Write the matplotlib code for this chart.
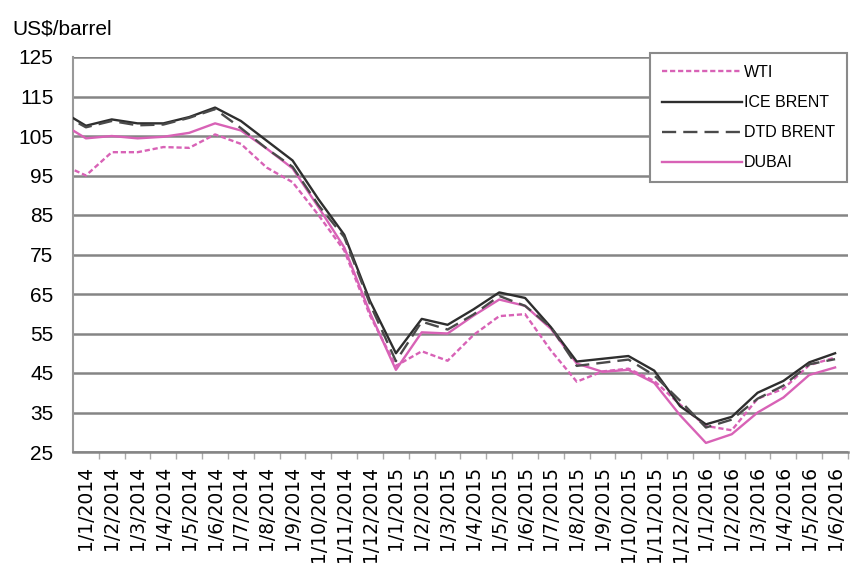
import numpy as np
import matplotlib
matplotlib.use("Agg")
import matplotlib.pyplot as plt
from matplotlib.ticker import FixedLocator

plt.rcParams['font.family'] = ['Liberation Sans', 'DejaVu Sans']

# monthly averages, first value is Dec 2013 (only half visible at the left edge)
wti = [98.0, 95.0, 100.9, 100.9, 102.2, 102.0, 105.4, 103.0, 97.0, 93.3, 85.0,
       76.0, 59.5, 46.8, 50.5, 48.1, 54.6, 59.4, 59.9, 50.7, 42.8, 45.4, 46.1,
       43.0, 37.0, 31.6, 30.5, 38.5, 41.0, 47.0, 48.9]
ice_brent = [111.5, 107.6, 109.2, 108.2, 108.2, 109.8, 112.2, 108.8, 103.8, 98.8,
             89.0, 80.0, 63.2, 50.0, 58.7, 57.2, 61.1, 65.4, 64.0, 56.6, 47.9,
             48.6, 49.3, 45.6, 36.6, 32.0, 33.9, 40.0, 43.0, 47.7, 50.0]
dtd_brent = [110.8, 107.2, 108.8, 107.7, 107.9, 109.6, 111.8, 107.0, 101.8, 97.2,
             87.5, 79.4, 62.4, 48.0, 58.0, 56.0, 59.8, 64.5, 62.0, 56.6, 46.8,
             47.6, 48.4, 44.4, 38.0, 31.2, 33.2, 38.5, 41.8, 47.2, 48.5]
dubai = [108.4, 104.4, 105.0, 104.4, 104.8, 105.8, 108.2, 106.4, 101.8, 96.8,
         87.0, 76.8, 60.2, 45.8, 55.3, 55.0, 59.5, 63.6, 62.0, 56.2, 47.4, 45.3,
         45.8, 42.5, 34.3, 27.3, 29.5, 35.0, 38.8, 44.5, 46.4]

month_labels = ["1/1/2014", "1/2/2014", "1/3/2014", "1/4/2014", "1/5/2014",
                "1/6/2014", "1/7/2014", "1/8/2014", "1/9/2014", "1/10/2014",
                "1/11/2014", "1/12/2014", "1/1/2015", "1/2/2015", "1/3/2015",
                "1/4/2015", "1/5/2015", "1/6/2015", "1/7/2015", "1/8/2015",
                "1/9/2015", "1/10/2015", "1/11/2015", "1/12/2015", "1/1/2016",
                "1/2/2016", "1/3/2016", "1/4/2016", "1/5/2016", "1/6/2016"]
y_ticks = [25, 35, 45, 55, 65, 75, 85, 95, 105, 115, 125]

pink = '#d862b6'
dark = '#2e2e2e'
grid_c = '#858585'

fig = plt.figure(figsize=(8.5, 5.65), dpi=100)
ax = fig.add_axes([73/850, 1-452/565, 775/850, 395/565])

x = np.arange(len(wti)) - 1

ax.plot(x, wti, color=pink, lw=1.7, ls=(0, (2.2, 1.2)), label='WTI', zorder=3)
ax.plot(x, ice_brent, color=dark, lw=1.7, label='ICE BRENT', zorder=4)
ax.plot(x, dtd_brent, color='#4a4a4a', lw=1.7, ls=(0, (6, 3)), label='DTD BRENT', zorder=4)
ax.plot(x, dubai, color=pink, lw=1.7, label='DUBAI', zorder=3)

ax.set_xlim(-0.5, len(month_labels) - 0.5)
ax.set_ylim(25, 125)
ax.set_yticks(y_ticks)
ax.yaxis.grid(True, color=grid_c, lw=1.8)
ax.set_axisbelow(True)
ax.tick_params(axis='y', length=0, pad=14, labelsize=15)

ax.set_xticks(np.arange(len(month_labels)))
ax.set_xticklabels(month_labels, rotation=90, fontsize=13.5, family='DejaVu Sans')
ax.xaxis.set_minor_locator(FixedLocator(np.arange(len(month_labels)) + 0.5))
ax.tick_params(axis='x', which='major', length=0, pad=10)
ax.tick_params(axis='x', which='minor', length=5, color='#aaaaaa', width=1)

for s in ['top', 'right']:
    ax.spines[s].set_visible(False)
ax.spines['left'].set_color('#999999')
ax.spines['left'].set_linewidth(1.5)
ax.spines['bottom'].set_color(grid_c)
ax.spines['bottom'].set_linewidth(1.8)

fig.text(12/850, 1-34/565, 'US$/barrel', fontsize=15)

leg = ax.legend(loc='upper right', bbox_to_anchor=(847/850, 1-53/565),
                bbox_transform=fig.transFigure, borderaxespad=0,
                fancybox=False, framealpha=1, edgecolor='#8a8a8a',
                prop={'family': 'Liberation Sans', 'size': 11.5},
                handlelength=5.0, handletextpad=0.1, labelspacing=0.95,
                borderpad=0.75)
leg.get_frame().set_linewidth(1.5)

fig.savefig('out.png', dpi=100)
